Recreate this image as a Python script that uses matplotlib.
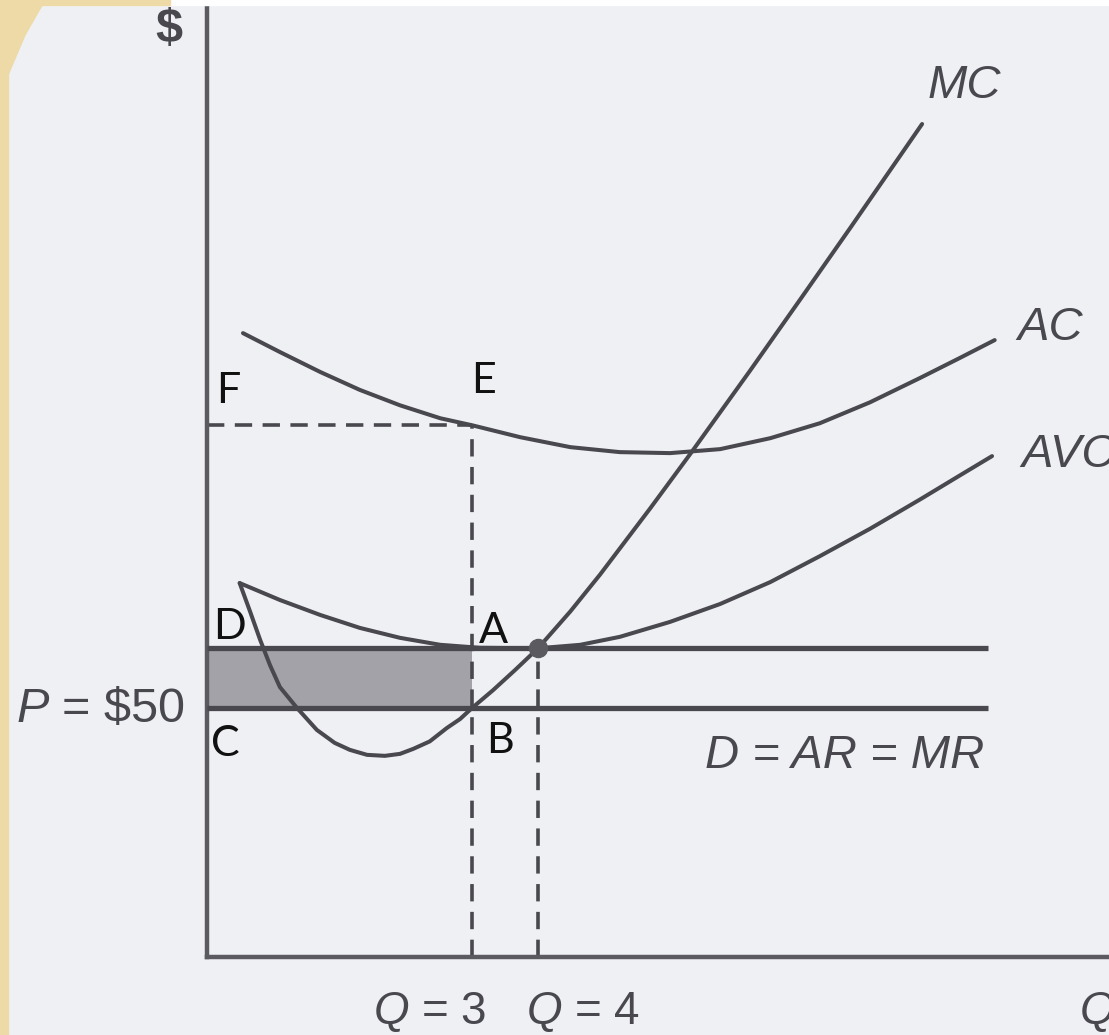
import numpy as np
import matplotlib.pyplot as plt
from matplotlib.patches import Rectangle, Polygon

plt.rcParams['font.family'] = 'Liberation Sans'
plt.rcParams['mathtext.fontset'] = 'custom'
plt.rcParams['mathtext.it'] = 'Liberation Sans:italic'
plt.rcParams['mathtext.rm'] = 'Liberation Sans'

# cost curves (quantity, dollars)
mc_q = [-0.52, -0.36, -0.21, -0.06, 0.09, 0.35, 0.65, 0.92, 1.15, 1.41, 1.68, 1.91, 2.11,
        2.36, 2.62, 2.82, 3.00, 3.32, 3.65, 4.00, 4.49, 4.94, 5.70, 6.30, 7.21, 7.97,
        8.73, 9.33, 9.82]
mc_p = [75.1, 69.3, 63.7, 58.6, 54.2, 50.0, 45.6, 43.0, 41.6, 40.6, 40.4, 40.8, 41.8,
        43.3, 46.0, 47.8, 50.0, 53.6, 57.6, 62.0, 69.4, 76.8, 90.1, 100.9, 117.7, 132.0,
        146.4, 157.9, 167.3]

ac_q = [-0.47, 0.09, 0.70, 1.30, 1.91, 2.52, 3.00, 3.73, 4.49, 5.24, 6.00, 6.76, 7.52,
        8.27, 9.03, 9.79, 10.39, 10.92]
ac_p = [125.3, 121.5, 117.5, 113.9, 110.8, 108.2, 106.8, 104.4, 102.4, 101.4, 101.2,
        102.0, 104.2, 107.2, 111.4, 116.3, 120.3, 123.9]

avc_q = [-0.52, 0.09, 0.70, 1.30, 1.91, 2.52, 3.12, 4.00, 4.64, 5.24, 6.00, 6.76, 7.52,
         8.27, 9.03, 9.79, 10.39, 10.88]
avc_p = [75.1, 71.7, 68.7, 66.1, 64.1, 62.7, 62.1, 62.0, 62.7, 64.3, 67.3, 70.9, 75.3,
         80.5, 86.0, 91.9, 96.7, 100.6]

price = 50          # P = $50, D = AR = MR
q_profit = 3        # MC = MR
q_shut = 4          # minimum of AVC
avc_min = 62.0
ac_at_q = 106.8
line_end = 10.82

ink = '#48484e'
labels_font = 'Lato'

fig = plt.figure(figsize=(11.09, 10.35), dpi=100)
fig.patch.set_facecolor('#eef0f4')
ax = fig.add_axes([207 / 1109, 78 / 1035, 902 / 1109, 952 / 1035])
ax.set_facecolor('none')
x0 = -1.015
ax.set_xlim(x0, 12.652)
ax.set_ylim(0, 191.2)
for s in ['top', 'right']:
    ax.spines[s].set_visible(False)
for s in ['left', 'bottom']:
    ax.spines[s].set_linewidth(3.2)
    ax.spines[s].set_color('#5a5a60')
ax.set_xticks([])
ax.set_yticks([])

# loss per unit covered by price above AVC
ax.fill_between([x0, q_profit], price, avc_min, color='#a2a2a8', lw=0, zorder=1)

ax.hlines([price, avc_min], x0, line_end, color=ink, lw=3.8, zorder=3)

dash = (0, (4.8, 2.9))
ax.plot([x0, q_profit], [ac_at_q, ac_at_q], color=ink, lw=2.6, ls=dash, zorder=2)
ax.plot([q_profit, q_profit], [0, ac_at_q], color=ink, lw=2.6, ls=dash, zorder=2)
ax.plot([q_shut, q_shut], [0, avc_min], color=ink, lw=2.6, ls=dash, zorder=2)

for qs, ps in [(mc_q, mc_p), (ac_q, ac_p), (avc_q, avc_p)]:
    ax.plot(qs, ps, color=ink, lw=2.9, solid_capstyle='round',
            solid_joinstyle='round', zorder=4)
ax.plot(q_shut, avc_min, 'o', ms=13, color='#5a5a60', zorder=5)

txt = dict(color=ink, ha='center', va='center', clip_on=False)
ax.text(-1.59, 186.3, '$', fontsize=35, fontweight='bold', **txt)
ax.text(10.46, 174.9, 'MC', fontsize=34, style='italic', **txt)
ax.text(11.76, 126.3, 'AC', fontsize=34, style='italic', **txt)
ax.text(11.33, 100.8, 'AVC', fontsize=34, style='italic', color=ink, ha='left',
        va='center', clip_on=False)
ax.text(8.64, 40.4, 'D = AR = MR', fontsize=34, style='italic', **txt)
ax.text(-1.35, 49.8, r'$P$ = \$50', fontsize=35, color=ink, ha='right', va='center',
        clip_on=False)
ax.text(2.36, -11.0, r'$Q$ = 3', fontsize=33, **txt)
ax.text(4.68, -11.0, r'$Q$ = 4', fontsize=33, **txt)
ax.text(12.21, -11.0, 'Q', fontsize=33, style='italic', color=ink, ha='left',
        va='center', clip_on=False)

# point labels
pts = {'F': (-0.70, 113.7), 'E': (3.17, 115.7), 'D': (-0.68, 66.3),
       'A': (3.33, 65.5), 'C': (-0.73, 42.8), 'B': (3.42, 43.4)}
for name, (qx, py) in pts.items():
    ax.text(qx, py, name, fontsize=31, family=labels_font, color='#111111',
            ha='center', va='center', zorder=6)

# page edge decoration
fig.add_artist(Rectangle((0, 0), 8 / 1109, 1, transform=fig.transFigure,
                         color='#eedaa6', zorder=10))
fig.add_artist(Rectangle((0, 1030 / 1035), 1, 5 / 1035, transform=fig.transFigure,
                         color='white', zorder=9))
fig.add_artist(Rectangle((0, 1030 / 1035), 170 / 1109, 5 / 1035, transform=fig.transFigure,
                         color='#eedaa6', zorder=10))
fig.add_artist(Polygon([(0, 1), (45 / 1109, 1), (25 / 1109, 1000 / 1035),
                        (8 / 1109, 960 / 1035), (0, 960 / 1035)],
                       transform=fig.transFigure, color='#eedaa6', zorder=10))

fig.savefig('out.png', dpi=100, facecolor=fig.get_facecolor())
